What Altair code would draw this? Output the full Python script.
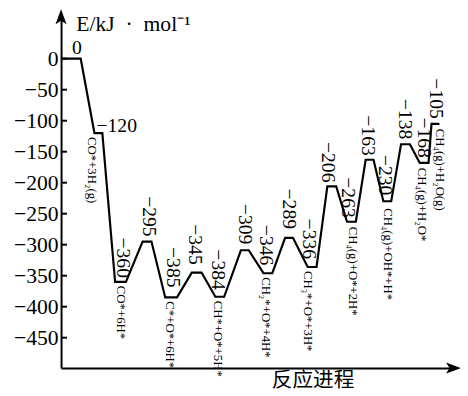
import altair as alt
import pandas as pd

# ---- data ----
energies = [0, -120, -360, -295, -385, -345, -384, -309, -346, -289, -336,
            -206, -263, -163, -230, -138, -168, -105]
state_names = ["", "CO*+3H₂(g)", "CO*+6H*", "", "C*+O*+6H*", "", "CH*+O*+5H*", "",
               "CH₂*+O*+4H*", "", "CH₃*+O*+3H*", "", "CH₄(g)+O*+2H*", "",
               "CH₄(g)+OH*+H*", "", "CH₄(g)+H₂O*", "CH₄(g)+H₂O(g)"]
# reaction-progress coordinate (arbitrary units) where each level starts / ends
level_start = [0, 34, 55, 83, 106, 133, 157, 183, 206, 228, 251, 271, 291, 310, 328, 346, 365, 377]
level_end = [20, 42, 66, 92, 118, 143, 166, 191, 215, 236, 260, 280, 300, 318, 336, 355, 374, 385]
y_ticks = [0, -50, -100, -150, -200, -250, -300, -350, -400, -450]

# ---- layout (label nudges, in pixels) ----
value_dx = [0, 0, 2.5, 1.5, 2, -2, -1.5, 0, -2.5, 0, -3.5, -3.5, -3.5, -2, -2, -1, 0, 0.5]
value_gap = [5, 1, 4, 5, 10, 8, 7, 6, 8, 9, 8, 4, 4, 4, 6, 5, 5, 5]
state_dx = [0, -7, 0.5, 0, -1, 0, -1.5, 0, -1.5, 0, -4, 0, 1.5, 0, 1, 0, -2.5, 5]
state_gap = [0, 4, 4, 0, 4, 0, 4, 0, 4, 0, 4, 0, 5, 0, 7, 0, 5, 5]

W, H = 401, 359
Y_MIN, Y_MAX = -499, 70
X_MAX = 401
PX = H / (Y_MAX - Y_MIN)  # pixels per kJ/mol

SERIF = "Liberation Serif"

# profile line
rows = []
k = 0
for s, e, v in zip(level_start, level_end, energies):
    rows.append({"x": s, "y": v, "o": k}); k += 1
    rows.append({"x": e, "y": v, "o": k}); k += 1
line_df = pd.DataFrame(rows)

centers = [(s + e) / 2 for s, e in zip(level_start, level_end)]
val_rows = []
for i, v in enumerate(energies):
    val_rows.append({
        "x": centers[i] + value_dx[i],
        "y": v + value_gap[i] / PX,
        "t": ("−" if v < 0 else "") + str(abs(v)),
        "i": i,
    })
val_df = pd.DataFrame(val_rows)
rot_df = val_df[val_df["i"] >= 2]

zero_df = pd.DataFrame([{"x": 16, "y": energies[0] + value_gap[0] / PX, "t": "0"}])
m120_df = pd.DataFrame([{"x": 36, "y": energies[1] + value_gap[1] / PX,
                         "t": "−" + str(abs(energies[1]))}])

st_rows = []
for i, n in enumerate(state_names):
    if n:
        st_rows.append({"x": centers[i] + state_dx[i],
                        "y": energies[i] - state_gap[i] / PX, "t": n})
st_df = pd.DataFrame(st_rows)

xs = alt.Scale(domain=[0, X_MAX], nice=False, zero=False)
ys = alt.Scale(domain=[Y_MIN, Y_MAX], nice=False, zero=False)

x_axis = alt.Axis(title="反应进程", labels=False, ticks=False, grid=False,
                  domainColor="black", domainWidth=2,
                  titleFont="Noto Sans CJK SC", titleFontSize=21,
                  titleFontWeight="normal", titleColor="black",
                  titleX=256, titleY=13, titleAlign="center",
                  titleBaseline="middle")
y_axis = alt.Axis(title="E/kJ\u2002·\u2002mol⁻¹", values=y_ticks, ticks=False,
                  grid=False, domainColor="black", domainWidth=2,
                  labelFont=SERIF, labelFontSize=22, labelColor="black",
                  labelPadding=3, labelFlush=False,
                  titleFont=SERIF, titleFontSize=22, titleFontWeight="normal",
                  titleColor="black", titleAngle=0, titleAlign="left",
                  titleBaseline="middle", titleX=15, titleY=8)

X = alt.X("x:Q", scale=xs, axis=x_axis)
Y = alt.Y("y:Q", scale=ys, axis=y_axis)

line = alt.Chart(line_df).mark_line(color="black", strokeWidth=2.2).encode(
    x=X, y=Y, order="o:Q")

tick_df = pd.DataFrame({"y": y_ticks})
ticks = alt.Chart(tick_df).mark_rule(color="black", strokeWidth=2).encode(
    x=alt.value(0), x2=alt.value(6), y=Y)

values_rot = alt.Chart(rot_df).mark_text(
    angle=90, align="right", baseline="middle", font=SERIF, fontSize=20, color="black"
).encode(x=X, y=Y, text="t:N")

zero_txt = alt.Chart(zero_df).mark_text(
    align="center", baseline="alphabetic", font=SERIF, fontSize=20, color="black"
).encode(x=X, y=Y, text="t:N")

m120_txt = alt.Chart(m120_df).mark_text(
    align="left", baseline="alphabetic", font=SERIF, fontSize=20, color="black"
).encode(x=X, y=Y, text="t:N")

states = alt.Chart(st_df).mark_text(
    angle=90, align="left", baseline="middle", font=SERIF, fontSize=13, color="black"
).encode(x=X, y=Y, text="t:N")

arrow_path = "M0,-0.6 L0.55,0.9 L0,0.55 L-0.55,0.9 Z"
ya_df = pd.DataFrame([{"x": 0, "y": Y_MAX}])
xa_df = pd.DataFrame([{"x": X_MAX, "y": Y_MIN}])
y_arrow = alt.Chart(ya_df).mark_point(
    shape=arrow_path, size=420, filled=True, color="black", opacity=1
).encode(x=X, y=Y)
x_arrow = alt.Chart(xa_df).mark_point(
    shape=arrow_path, size=420, filled=True, color="black", opacity=1, angle=90
).encode(x=X, y=Y)

chart = alt.layer(
    line, ticks, values_rot, zero_txt, m120_txt, states, y_arrow, x_arrow
).properties(
    width=W, height=H,
    autosize=alt.AutoSizeParams(type="none"),
    padding={"left": 54, "top": 4, "right": 5, "bottom": 25},
    background="white",
).configure_view(stroke=None)

chart.save("out.html", embed_options={"renderer": "svg", "actions": False})
